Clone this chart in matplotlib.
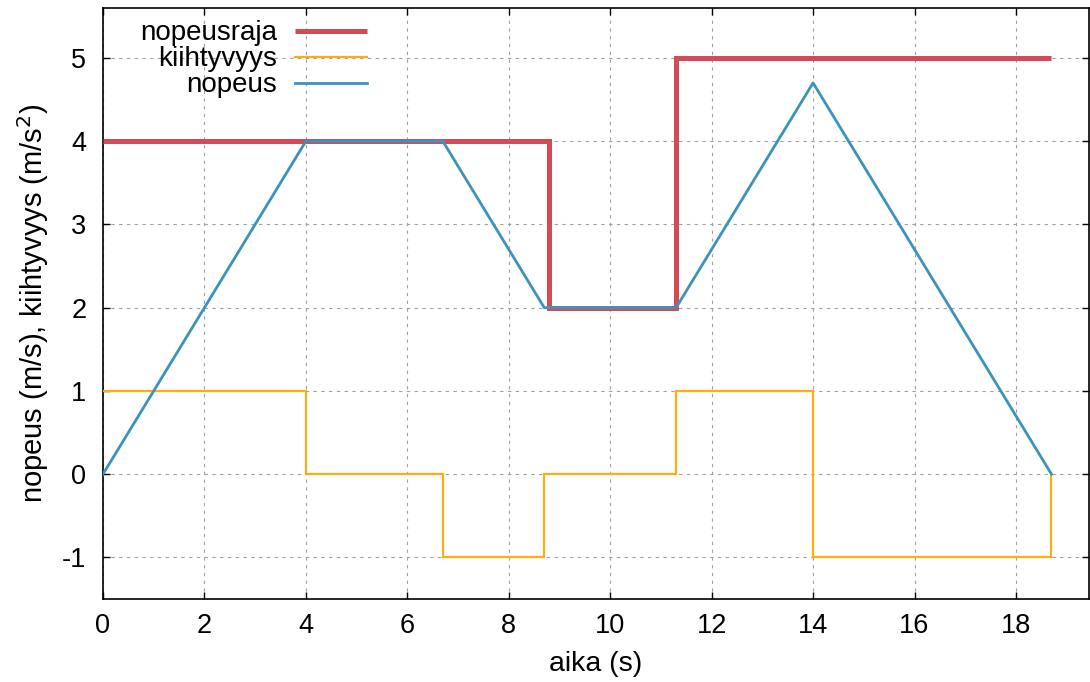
import matplotlib
matplotlib.use("Agg")
import matplotlib.pyplot as plt

# data
raja_t = [0, 8.8, 11.3, 18.7]
raja_v = [4, 2, 5, 5]
kiiht_t = [0, 4, 6.7, 8.7, 11.3, 14, 18.7]
kiiht_v = [1, 0, -1, 0, 1, -1, 0]
nop_t = [0, 4, 6.7, 8.7, 11.3, 14, 18.7]
nop_v = [0, 4, 4, 2, 2, 4.7, 0]
xticks = [0, 2, 4, 6, 8, 10, 12, 14, 16, 18]
yticks = [-1, 0, 1, 2, 3, 4, 5]

plt.rcParams['font.family'] = ['Liberation Sans', 'DejaVu Sans']
plt.rcParams['font.size'] = 20
plt.rcParams['axes.unicode_minus'] = False

fig = plt.figure(figsize=(10.9, 6.82), dpi=100)
ax = fig.add_axes([103/1090, 83/682, (1089-103)/1090, (599-8)/682])

ax.plot(raja_t, raja_v, drawstyle='steps-post', color='#d34b57', lw=3.6,
        label='nopeusraja', solid_joinstyle='miter', solid_capstyle='butt', zorder=3)
ax.plot(kiiht_t, kiiht_v, drawstyle='steps-post', color='#ffad14', lw=1.6,
        label='kiihtyvyys', solid_joinstyle='miter', zorder=4)
ax.plot(nop_t, nop_v, color='#3b93bb', lw=2.0, label='nopeus', zorder=5)

ax.set_xlim(0, 19.44)
ax.set_ylim(-1.5, 5.6)
ax.set_xticks(xticks)
ax.set_yticks(yticks)
ax.tick_params(direction='in', length=5, width=1, top=True, right=True,
               labelsize=19.5)
ax.tick_params(axis='x', pad=10)
ax.tick_params(axis='y', pad=12)
ax.grid(True, color='#a0a0a0', linestyle=(0, (3, 4)), lw=0.8)
for s in ax.spines.values():
    s.set_linewidth(1.2)

ax.set_xlabel('aika (s)', fontsize=20.5, labelpad=9)
ax.set_ylabel('nopeus (m/s), kiihtyvyys (m/s$^2$)', fontsize=21, labelpad=8)

leg = ax.legend(loc='upper left', markerfirst=False, frameon=False,
                handlelength=2.6, handletextpad=0.65, labelspacing=0.0,
                fontsize=20, bbox_to_anchor=(0.026, 0.998), borderaxespad=0)

fig.savefig('out.png', dpi=100)
